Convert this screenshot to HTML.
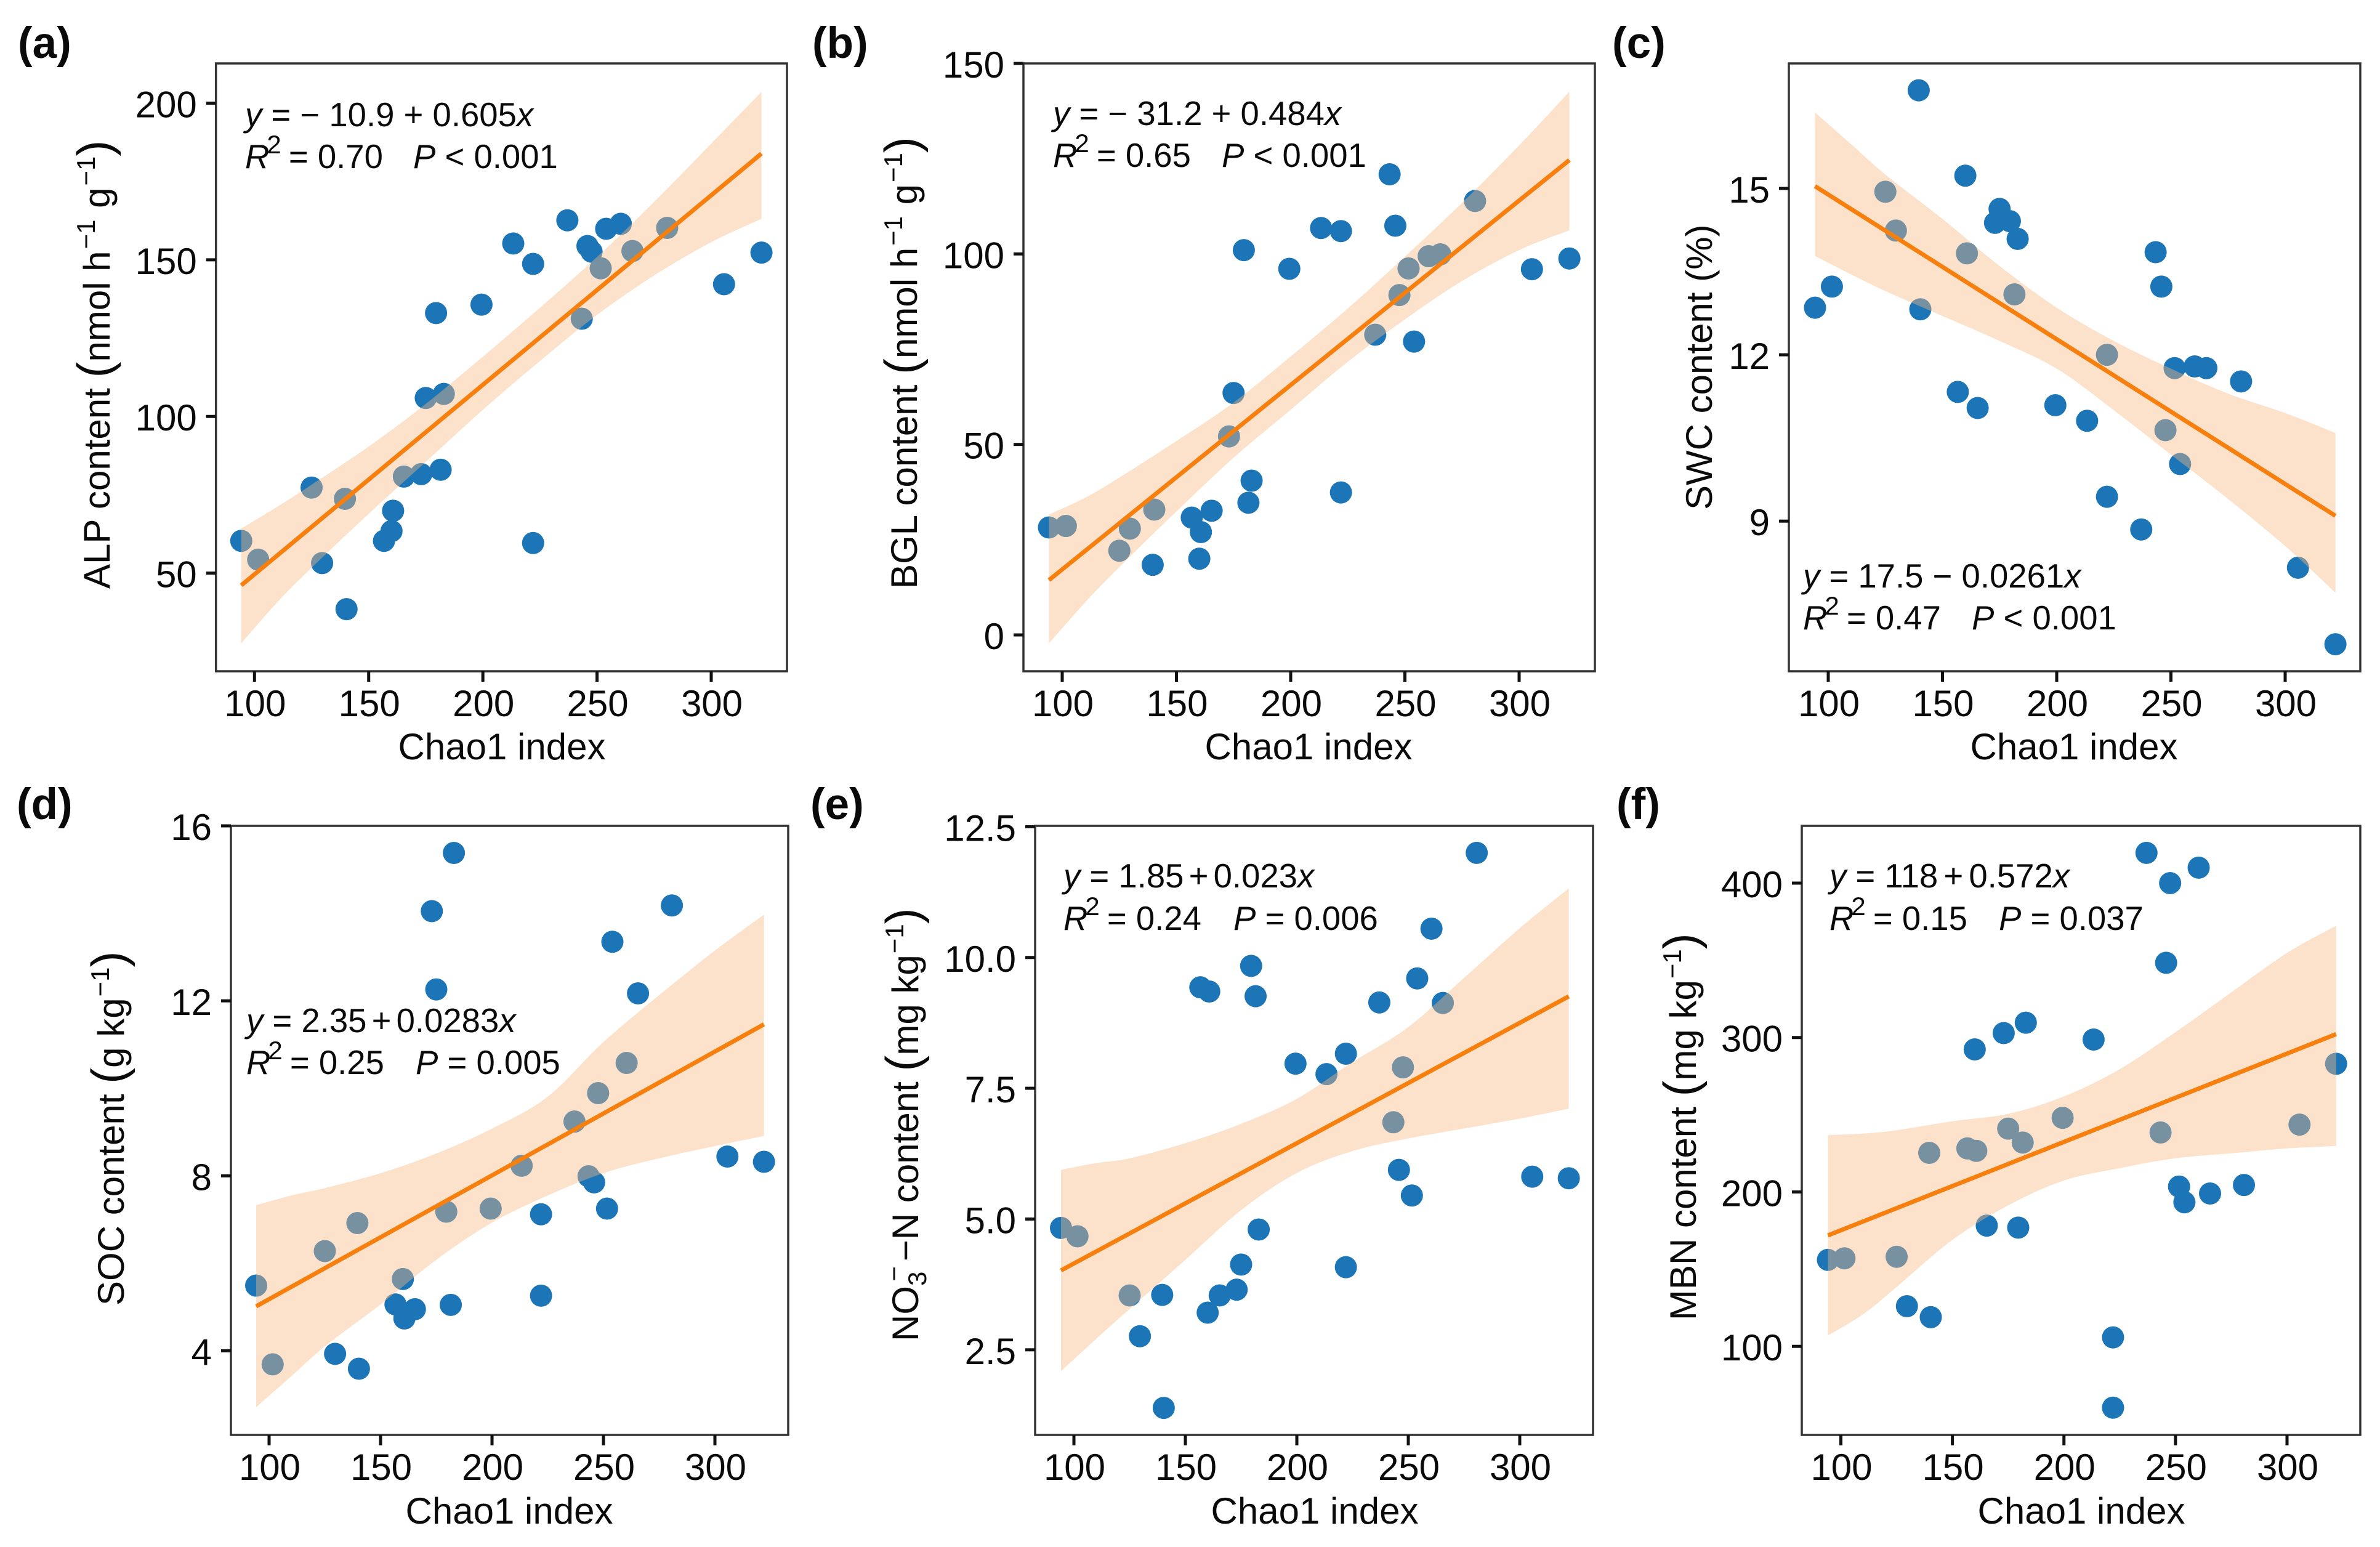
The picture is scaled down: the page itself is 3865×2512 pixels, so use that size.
<!DOCTYPE html>
<html lang="en">
<head>
<meta charset="utf-8">
<title>Chao1 index versus soil properties</title>
<style>
html,body{margin:0;padding:0;background:#fff;}
svg{display:block;}
text{font-family:"Liberation Sans",Arial,sans-serif;fill:#0a0a0a;}
.letter{font-size:71px;font-weight:bold;}
.axis-title{font-size:60px;}
.note{font-size:54.5px;}
.i{font-style:italic;}
.sup{font-size:42px;}
.paren{font-size:78px;font-weight:normal;}
</style>
</head>
<body>
<svg id="figure" xmlns="http://www.w3.org/2000/svg" width="3865" height="2512" viewBox="0 0 3865 2512">
  <rect width="3865" height="2512" fill="#ffffff"/>
  <g id="plots"></g>

  <g>
    <text class="letter" x="29" y="94">(a)</text>
    <text class="letter" x="1319" y="94">(b)</text>
    <text class="letter" x="2618" y="94">(c)</text>
    <text class="letter" x="27" y="1330">(d)</text>
    <text class="letter" x="1316" y="1330">(e)</text>
    <text class="letter" x="2625" y="1330">(f)</text>
  </g>

  <g>
    <text class="axis-title" text-anchor="middle" x="815" y="1233">Chao1 index</text>
    <text class="axis-title" text-anchor="middle" x="2125" y="1233">Chao1 index</text>
    <text class="axis-title" text-anchor="middle" x="3368" y="1233">Chao1 index</text>
    <text class="axis-title" text-anchor="middle" x="827" y="2474">Chao1 index</text>
    <text class="axis-title" text-anchor="middle" x="2135" y="2474">Chao1 index</text>
    <text class="axis-title" text-anchor="middle" x="3380" y="2474">Chao1 index</text>
  </g>

  <g>
    <text class="axis-title" transform="translate(178 956) rotate(-90)">ALP content <tspan class="paren" dy="2">(</tspan><tspan dy="-2">nmol h</tspan><tspan class="sup" dx="3" dy="-24">−1</tspan><tspan dx="2" dy="24"> g</tspan><tspan class="sup" dx="3" dy="-24">−1</tspan><tspan class="paren" dy="26">)</tspan></text>
    <text class="axis-title" transform="translate(1489 956) rotate(-90)">BGL content <tspan class="paren" dy="2">(</tspan><tspan dy="-2">nmol h</tspan><tspan class="sup" dx="3" dy="-24">−1</tspan><tspan dx="2" dy="24"> g</tspan><tspan class="sup" dx="3" dy="-24">−1</tspan><tspan class="paren" dy="26">)</tspan></text>
    <text class="axis-title" transform="translate(2780 828) rotate(-90)">SWC content (%)</text>
    <text class="axis-title" transform="translate(201 2120) rotate(-90)">SOC content <tspan class="paren" dy="2">(</tspan><tspan dy="-2">g kg</tspan><tspan class="sup" dx="2" dy="-24">−1</tspan><tspan class="paren" dy="26">)</tspan></text>
    <text class="axis-title" transform="translate(1491 2178) rotate(-90)">NO<tspan class="sup" dy="13">3</tspan><tspan class="sup" dx="-16" dy="-38">−</tspan><tspan dx="8" dy="25">−N content </tspan><tspan class="paren" dy="2">(</tspan><tspan dy="-2">mg kg</tspan><tspan class="sup" dx="2" dy="-24">−1</tspan><tspan class="paren" dy="26">)</tspan></text>
    <text class="axis-title" transform="translate(2754 2144) rotate(-90)">MBN content <tspan class="paren" dy="2">(</tspan><tspan dy="-2">mg kg</tspan><tspan class="sup" dx="2" dy="-24">−1</tspan><tspan class="paren" dy="26">)</tspan></text>
  </g>

  <g>
    <text class="note" x="398" y="205"><tspan class="i">y</tspan> = − 10.9 + 0.605<tspan class="i">x</tspan></text>
    <text class="note" x="398" y="273"><tspan class="i">R</tspan><tspan class="sup" dx="-4" dy="-24">2</tspan><tspan dx="-3" dy="24"> = 0.70</tspan><tspan class="i" x="671">P</tspan> &lt; 0.001</text>

    <text class="note" x="1710" y="203"><tspan class="i">y</tspan> = − 31.2 + 0.484<tspan class="i">x</tspan></text>
    <text class="note" x="1710" y="271"><tspan class="i">R</tspan><tspan class="sup" dx="-4" dy="-24">2</tspan><tspan dx="-3" dy="24"> = 0.65</tspan><tspan class="i" x="1984">P</tspan> &lt; 0.001</text>

    <text class="note" x="2928" y="954"><tspan class="i">y</tspan> = 17.5 − 0.0261<tspan class="i">x</tspan></text>
    <text class="note" x="2928" y="1022"><tspan class="i">R</tspan><tspan class="sup" dx="-4" dy="-24">2</tspan><tspan dx="-3" dy="24"> = 0.47</tspan><tspan class="i" x="3202">P</tspan> &lt; 0.001</text>

    <text class="note" x="400" y="1676"><tspan class="i">y</tspan> = 2.35<tspan dx="-7"> + </tspan><tspan dx="-7">0.0283</tspan><tspan class="i">x</tspan></text>
    <text class="note" x="400" y="1744"><tspan class="i">R</tspan><tspan class="sup" dx="-4" dy="-24">2</tspan><tspan dx="-3" dy="24"> = 0.25</tspan><tspan class="i" x="675">P</tspan> = 0.005</text>

    <text class="note" x="1727" y="1441"><tspan class="i">y</tspan> = 1.85<tspan dx="-7"> + </tspan><tspan dx="-7">0.023</tspan><tspan class="i">x</tspan></text>
    <text class="note" x="1727" y="1510"><tspan class="i">R</tspan><tspan class="sup" dx="-4" dy="-24">2</tspan><tspan dx="-3" dy="24"> = 0.24</tspan><tspan class="i" x="2003">P</tspan> = 0.006</text>

    <text class="note" x="2971" y="1441"><tspan class="i">y</tspan> = 118<tspan dx="-6"> + </tspan><tspan dx="-6">0.572</tspan><tspan class="i">x</tspan></text>
    <text class="note" x="2971" y="1510"><tspan class="i">R</tspan><tspan class="sup" dx="-4" dy="-24">2</tspan><tspan dx="-3" dy="24"> = 0.15</tspan><tspan class="i" x="3246">P</tspan> = 0.037</text>
  </g>
</svg>

<script>
// Shared predictor
var chao1 = [94.2,101.6,125,129.6,139.6,140.3,156.7,160,160.7,165.4,173,175,179.5,181.5,182.9,199.4,213.3,222,222,237,243.3,245.8,247.6,251.6,254,260.4,265.5,280.7,305.6,322];

// Measured responses, same order as chao1
var alpValues = [60.3,54.3,77.3,53.2,73.7,38.5,60.3,63.4,69.9,80.8,81.6,105.9,133,83,107.2,135.7,155.2,148.7,59.6,162.6,131.2,154.4,152.6,147.3,159.9,161.5,152.8,160.2,142.2,152.3];
var bglValues = [28.2,28.6,22.1,27.9,18.4,32.9,30.8,20,27,32.6,52.1,63.5,101,34.7,40.5,96.1,106.8,106,37.4,78.8,120.9,107.4,89.2,96.2,77,99.4,99.9,113.9,96,98.8];
var swcValues = [12.85,13.23,14.94,14.24,16.77,12.82,11.33,15.23,13.83,11.04,14.38,14.63,14.41,13.09,14.09,11.09,10.81,12.0,9.44,8.85,13.85,13.23,10.64,11.76,10.03,11.79,11.76,11.52,8.16,6.78];
var socValues = [5.49,3.69,6.28,3.93,6.92,3.59,5.06,5.64,4.74,4.95,14.05,12.26,7.18,5.05,15.38,7.25,8.23,7.12,5.26,9.24,7.99,7.85,9.89,7.25,13.35,10.58,12.17,14.18,8.44,8.32];
var no3Values = [4.83,4.67,3.54,2.76,3.55,1.39,9.43,3.21,9.35,3.54,3.65,4.13,9.84,9.26,4.8,7.97,7.77,8.16,4.08,9.14,6.85,5.94,7.9,5.45,9.6,10.55,9.13,12,5.81,5.78];
var mbnValues = [156,157,158,126,225.3,118.9,228.2,292.3,226.6,178.2,302.9,241,176.9,232,309.6,248,298.7,105.8,60.3,419.6,238.5,348.4,400,203.5,193.3,410,199,204.5,243.6,283];

// Regression coefficients
var alpFit = [-10.9,0.605];
var bglFit = [-31.2,0.484];
var swcFit = [17.5,-0.0261];
var socFit = [2.35,0.0283];
var no3Fit = [1.85,0.023];
var mbnFit = [118,0.572];

// Confidence band, sampled on bandX
var bandX = [94.2,110,125,150,175,200,225,250,275,300,322];
var alpUpper = [64.2,71.2,78.2,90.4,104,119.1,134.7,150.9,168.5,187.1,203.6];
var alpLower = [27.6,40.7,51.7,68.9,85.5,102.1,117.7,132.4,145,155.6,163.1];
var bglUpper = [31.6,36,41.3,50.9,61,73.1,85.7,99.3,113.4,128.5,142.6];
var bglLower = [-2.2,8.5,17.8,32.4,46.5,59.1,71.7,82.8,92.9,101,106.2];
var swcUpper = [16.37,15.8,15.25,14.45,13.6,12.85,12.25,11.75,11.3,10.95,10.59];
var swcLower = [13.78,13.45,13.15,12.7,12.25,11.75,11.0,10.2,9.4,8.55,7.71];
var socUpper = [7.33,7.55,7.72,8.06,8.51,9.08,9.81,11.06,12.13,13.15,13.97];
var socLower = [2.71,3.42,4.1,5.06,6.08,6.93,7.55,8.06,8.4,8.68,8.91];
var no3Upper = [5.94,6.07,6.16,6.45,6.82,7.3,8.0,8.67,9.61,10.56,11.32];
var no3Lower = [2.09,2.71,3.28,4.22,5.17,5.88,6.3,6.54,6.73,6.92,7.11];
var mbnUpper = [236.9,237.8,240,245.8,250.6,261.9,279.5,303.5,329.2,354.8,372.4];
var mbnLower = [107,120.8,138.5,168.9,191.3,207.4,215.4,221.8,225,228.2,229.8];

// Tick labels
var xTicks = [100,150,200,250,300];
var alpTicks = [50,100,150,200];
var bglTicks = [0,50,100,150];
var swcTicks = [9,12,15];
var socTicks = [4,8,12,16];
var no3Ticks = [2.5,5,7.5,10,12.5];
var no3TickLabels = ['2.5','5.0','7.5','10.0','12.5'];
var mbnTicks = [100,200,300,400];

var NS = 'http://www.w3.org/2000/svg';
var plots = document.getElementById('plots');

function make(parent, tag, attrs) {
  var el = document.createElementNS(NS, tag);
  for (var k in attrs) { el.setAttribute(k, attrs[k]); }
  parent.appendChild(el);
  return el;
}

function linear(d0, d1, r0, r1) {
  return function (v) { return r0 + (v - d0) * (r1 - r0) / (d1 - d0); };
}

// Smooth curve segments through a list of [x, y] pixel pairs
function curveThrough(p) {
  var s = '';
  for (var i = 0; i < p.length - 1; i++) {
    var a = p[Math.max(i - 1, 0)], b = p[i], c = p[i + 1], d = p[Math.min(i + 2, p.length - 1)];
    s += ' C' + (b[0] + (c[0] - a[0]) / 6).toFixed(1) + ' ' + (b[1] + (c[1] - a[1]) / 6).toFixed(1) +
         ' ' + (c[0] - (d[0] - b[0]) / 6).toFixed(1) + ' ' + (c[1] - (d[1] - b[1]) / 6).toFixed(1) +
         ' ' + c[0].toFixed(1) + ' ' + c[1].toFixed(1);
  }
  return s;
}

function drawPanel(id, frame, values, fit, upper, lower, yTicks, yLabels) {
  var sx = linear(100, 300, frame.x100, frame.x300);
  var sy = linear(frame.yA, frame.yB, frame.pxA, frame.pxB);
  var g = make(plots, 'g', {});
  
  

  var pts = make(g, 'g', {});
  
  
  chao1.forEach(function (xv, i) {
    var c = make(pts, 'circle', {cx: sx(xv), cy: sy(values[i]), r: 18, fill: '#1c75b6'});
    
    
  });

  var top = bandX.map(function (xv, i) { return [sx(xv), sy(upper[i])]; });
  var bot = bandX.map(function (xv, i) { return [sx(xv), sy(lower[i])]; }).reverse();
  var d = 'M' + top[0][0].toFixed(1) + ' ' + top[0][1].toFixed(1) + curveThrough(top) +
          ' L' + bot[0][0].toFixed(1) + ' ' + bot[0][1].toFixed(1) + curveThrough(bot) + ' Z';
  var band = make(g, 'path', {d: d, fill: 'rgb(250,185,130)', 'fill-opacity': 0.415});
  
  

  var x0 = chao1[0], x1 = chao1[chao1.length - 1];
  var line = make(g, 'line', {x1: sx(x0), y1: sy(fit[0] + fit[1] * x0), x2: sx(x1), y2: sy(fit[0] + fit[1] * x1), stroke: '#f77f0e', 'stroke-width': 7});
  
  

  var box = make(g, 'rect', {x: frame.left, y: frame.top, width: frame.right - frame.left, height: frame.bottom - frame.top, fill: 'none', stroke: '#333', 'stroke-width': 3.5});
  
  

  xTicks.forEach(function (t) {
    var px = sx(t);
    var tick = make(g, 'line', {x1: px, y1: frame.bottom, x2: px, y2: frame.bottom + 17, stroke: '#111', 'stroke-width': 5});
    
    
    var lab = make(g, 'text', {x: px + 1, y: frame.bottom + 73, 'text-anchor': 'middle', 'font-size': 60});
    
    
    lab.textContent = String(t);
  });

  yTicks.forEach(function (t, i) {
    var py = sy(t);
    var tick = make(g, 'line', {x1: frame.left - 16, y1: py, x2: frame.left, y2: py, stroke: '#111', 'stroke-width': 5});
    
    
    var lab = make(g, 'text', {x: frame.left - 31, y: py + 23, 'text-anchor': 'end', 'font-size': 60});
    
    
    lab.textContent = yLabels ? yLabels[i] : String(t);
  });
}

drawPanel('a', {left:350.7,right:1278,top:103,bottom:1090,x100:413.3,x300:1155,yA:50,yB:200,pxA:930.6,pxB:167.5}, alpValues, alpFit, alpUpper, alpLower, alpTicks);
drawPanel('b', {left:1662,right:2590,top:103,bottom:1090,x100:1725,x300:2467,yA:0,yB:150,pxA:1031,pxB:103}, bglValues, bglFit, bglUpper, bglLower, bglTicks);
drawPanel('c', {left:2905,right:3833,top:103,bottom:1090,x100:2969,x300:3711,yA:9,yB:15,pxA:846.2,pxB:306}, swcValues, swcFit, swcUpper, swcLower, swcTicks);
drawPanel('d', {left:375,right:1280,top:1341,bottom:2330,x100:437,x300:1161,yA:4,yB:16,pxA:2193.4,pxB:1341}, socValues, socFit, socUpper, socLower, socTicks);
drawPanel('e', {left:1681,right:2587,top:1341,bottom:2330,x100:1744,x300:2468,yA:2.5,yB:12.5,pxA:2191.8,pxB:1342.4}, no3Values, no3Fit, no3Upper, no3Lower, no3Ticks, no3TickLabels);
drawPanel('f', {left:2926,right:3833,top:1341,bottom:2330,x100:2989.5,x300:3714,yA:100,yB:400,pxA:2186.2,pxB:1434}, mbnValues, mbnFit, mbnUpper, mbnLower, mbnTicks);
</script>
</body>
</html>
